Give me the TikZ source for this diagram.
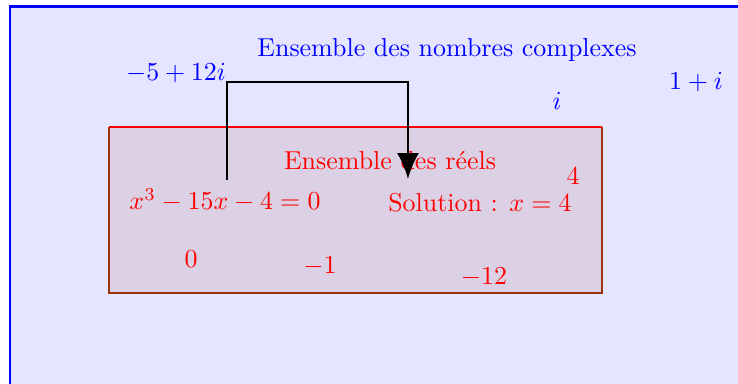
\documentclass[tikz,border=0pt]{standalone}
\usepackage{tikz}
\usetikzlibrary{arrows.meta}
\definecolor{reeledge}{RGB}{155,50,10}
\tikzset{
  cplxS/.style ={draw=blue, line width=1pt, fill=blue!10},
  reelS/.style ={fill=reeledge, fill opacity=0.11},
  reelB/.style ={draw=reeledge, line width=1pt},
  reelT/.style ={draw=red, line width=1pt},
  cplx/.style  ={blue},
  reel/.style  ={red},
  flow/.style  ={black, line width=1.1pt, -{Latex[length=10pt, width=8.5pt]}},
}

\begin{document}
\begin{tikzpicture}
  \useasboundingbox (0,0) rectangle (10,5.19);
  \clip (0,0) rectangle (10,5.19);
  \path[cplxS] (0.136,5.10) rectangle (10.6,-0.6);
  \node[cplx] (titleC) at (6.057,4.512) {Ensemble des nombres complexes};
  \node[cplx] (zA) at (2.385,4.20) {$-5+12i$};
  \node[cplx] (zB) at (9.43,4.079) {$1+i$};
  \node[cplx] (zI) at (7.547,3.821) {$i$};
  \fill[reelS] (1.477,3.469) rectangle (8.157,1.22);
  \draw[reelB] (1.477,3.469) -- (1.477,1.22) -- (8.157,1.22) -- (8.157,3.469);
  \draw[reelT] (1.477,3.469) -- (8.157,3.469);
  \node[reel] (titleR) at (5.285,3.02) {Ensemble des réels};
  \node[reel] (rFour) at (7.764,2.805) {$4$};
  \node[reel] (eq) at (3.049,2.48) {$x^3-15x-4=0$};
  \node[reel] (sol) at (6.504,2.45) {Solution : $x=4$};
  \node[reel] (rZero) at (2.588,1.68) {$0$};
  \node[reel] (rOne) at (4.336,1.585) {$-1$};
  \node[reel] (rTwelve) at (6.558,1.436) {$-12$};
  \coordinate (eqtop) at (3.076,2.751);
  \coordinate (soltop) at (5.528,2.764);
  \draw[flow] (eqtop) -- ++(0,1.328) -| (soltop);
\end{tikzpicture}
\end{document}
